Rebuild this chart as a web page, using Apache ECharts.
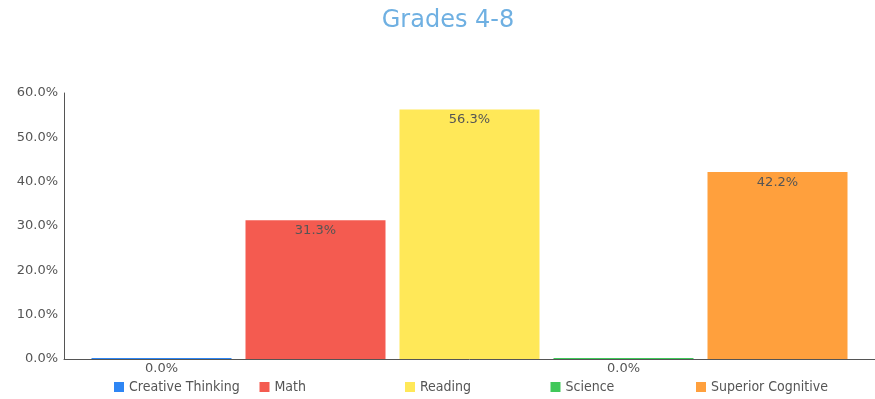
<!DOCTYPE html>
<html>
<head>
<meta charset="utf-8">
<script src="https://cdn.jsdelivr.net/npm/echarts@6/dist/echarts.min.js"></script>
<style>
  html, body { margin: 0; padding: 0; background: #fff; }
  #chart { width: 875px; height: 399px; }
</style>
</head>
<body>
<div id="chart"></div>
<script>
// Share of students per subject area, in percent
const subjects = ['Creative Thinking', 'Math', 'Reading', 'Science', 'Superior Cognitive'];
const shares = [0.0, 31.3, 56.3, 0.0, 42.2];
const colors = ['#2e86f4', '#f45b50', '#ffe858', '#40c85a', '#ffa03d'];
const yTicks = { min: 0, max: 60, interval: 10 };

const chart = echarts.init(document.getElementById('chart'));

const series = subjects.map((name, i) => ({
  name: name,
  type: 'bar',
  data: [shares[i]],
  barWidth: 140,
  barGap: '10%',
  barMinHeight: 1,
  itemStyle: { color: colors[i] },
  label: {
    show: true,
    position: 'insideTop',
    distance: 4,
    color: '#555',
    fontSize: 13,
    fontFamily: 'DejaVu Sans',
    formatter: p => p.value.toFixed(1) + '%'
  }
}));

// One legend entry per subject, laid out on a fixed pitch
const legendStart = 109;
const legendPitch = 145.5;
const legends = subjects.map((name, i) => ({
  data: [name],
  left: legendStart + i * legendPitch,
  top: 375,
  itemWidth: 10,
  itemHeight: 10,
  icon: 'rect',
  textStyle: { color: '#555', fontSize: 14, fontFamily: 'DejaVu Sans Condensed' }
}));

chart.setOption({
  animation: false,
  title: {
    text: 'Grades 4-8',
    left: 443,
    top: 4,
    textAlign: 'center',
    textStyle: { color: '#6fb0e2', fontSize: 24, fontWeight: 'normal', fontFamily: 'DejaVu Sans' }
  },
  legend: legends,
  grid: { left: 64, right: 0, top: 93, bottom: 40, containLabel: false },
  xAxis: {
    type: 'category',
    data: [''],
    axisLine: { lineStyle: { color: '#555' } },
    axisTick: { show: false },
    axisLabel: { show: false }
  },
  yAxis: {
    type: 'value',
    min: yTicks.min,
    max: yTicks.max,
    interval: yTicks.interval,
    axisLine: { show: true, lineStyle: { color: '#555' } },
    axisTick: { show: false },
    splitLine: { show: false },
    axisLabel: {
      color: '#555',
      fontSize: 13,
      fontFamily: 'DejaVu Sans',
      margin: 6,
      formatter: v => v.toFixed(1) + '%'
    }
  },
  series: series
});
</script>
</body>
</html>
